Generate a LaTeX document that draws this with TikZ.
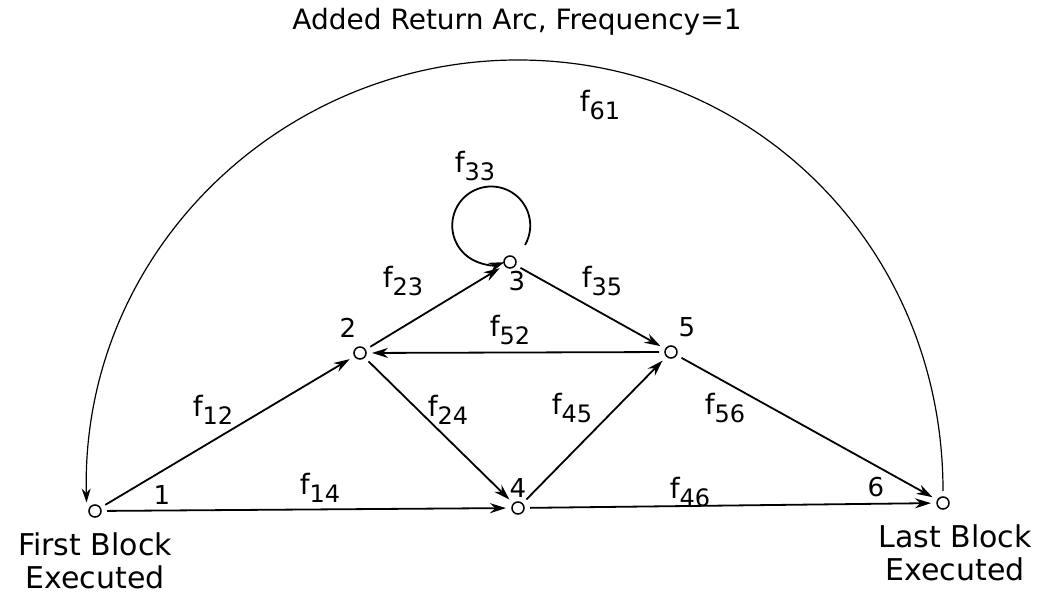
\documentclass[tikz,border=0pt]{standalone}
\usepackage{fontspec}
\setmainfont{DejaVu Sans}
\usetikzlibrary{arrows.meta}
\newcommand{\fsub}[1]{f\raisebox{-4pt}{\fontsize{12}{12}\selectfont #1}}

\begin{document}
\begin{tikzpicture}[x=0.5pt, y=0.5pt,
    block/.style={circle, draw, line width=0.75pt, minimum size=6pt, inner sep=0pt, outer sep=3pt},
    flow/.style={-{Stealth[length=8pt, width=5pt]}, line width=0.9pt},
    returnarc/.style={-{Stealth[length=7pt, width=4.5pt]}, line width=0.6pt},
    lbl/.style={font=\fontsize{14}{16}\selectfont},
    num/.style={font=\fontsize{13}{15}\selectfont},
    ends/.style={align=center, font=\fontsize{15}{16.5}\selectfont}]
    \useasboundingbox (0,0) rectangle (1047,594);
    % ブロック
    \node[block] (n1) at (95,83) {};
    \node[block] (n2) at (360,241) {};
    \node[block] (n3) at (510,332) {};
    \node[block] (n4) at (518,86) {};
    \node[block] (n5) at (671,242) {};
    \node[block] (n6) at (943,91) {};
    % ブロック番号
    \foreach \k/\x/\y in {1/162/99, 2/348/266, 3/517/313, 4/518/106, 5/687/267, 6/876/107} {
        \node[num] (k\k) at (\x,\y) {\k};
    }
    % 遷移
    \foreach \a/\b in {n1/n2, n1/n4, n2/n3, n2/n4, n3/n5, n5/n2, n4/n5, n4/n6, n5/n6} {
        \draw[flow] (\a) -- (\b);
    }
    % 自己ループ
    \draw[flow] ([shift={(15,17)}]n3.center) arc[start angle=-30, end angle=290, radius=39];
    % 頻度
    \foreach \t/\x/\y in {12/213/184, 14/320/106, 23/403/313, 33/475/428, 35/602/313, 52/510/264,
        24/448/184, 45/572/186, 56/725/186, 46/690/102, 61/600/489} {
        \node[lbl] (f\t) at (\x,\y) {\fsub{\t}};
    }
    % 追加された戻り弧
    \coordinate (apex) at (518,534);
    \draw[returnarc] (n6.north) .. controls +(0,245) and +(235,0) .. (apex)
        .. controls +(-237,0) and +(-6,250) .. (n1.north west);
    \node[lbl] (title) at (517,572) {Added Return Arc, Frequency=1};
    \node[ends] (first) at (95,33) {First Block\\Executed};
    \node[ends] (last) at (955,41) {Last Block\\Executed};
\end{tikzpicture}
\end{document}
